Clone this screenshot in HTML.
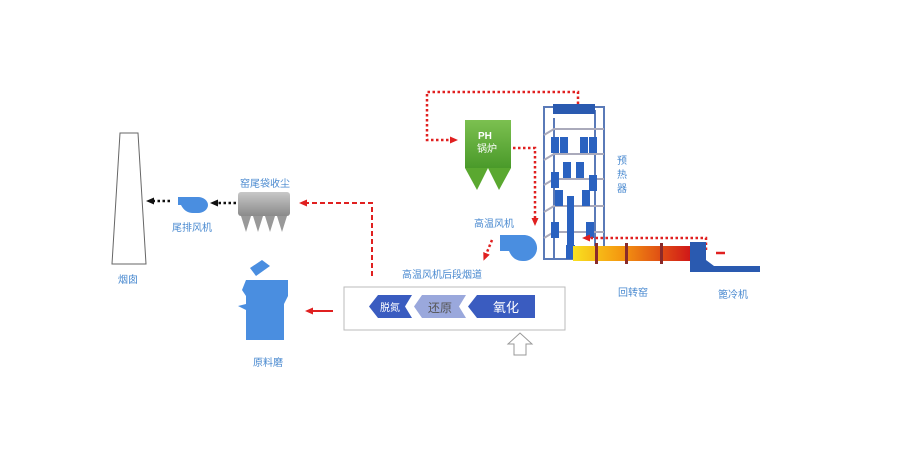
<!DOCTYPE html>
<html><head><meta charset="utf-8"><style>
html,body{margin:0;padding:0;background:#fff;}
svg text{font-family:"Liberation Sans","Noto Sans CJK SC",sans-serif;}
</style></head><body>
<svg width="900" height="452" viewBox="0 0 900 452" xmlns="http://www.w3.org/2000/svg">
<defs>
<linearGradient id="kiln" x1="0" x2="1"><stop offset="0" stop-color="#f8e020"/><stop offset="0.4" stop-color="#f59a10"/><stop offset="1" stop-color="#d01818"/></linearGradient>
<linearGradient id="grn" x1="0" x2="0" y1="0" y2="1"><stop offset="0" stop-color="#7cc050"/><stop offset="1" stop-color="#4a9a2a"/></linearGradient>
<linearGradient id="gry" x1="0" x2="0" y1="0" y2="1"><stop offset="0" stop-color="#c8c8c8"/><stop offset="1" stop-color="#8a8a8a"/></linearGradient>
<marker id="ar" markerUnits="userSpaceOnUse" markerWidth="8" markerHeight="8" refX="4" refY="4" orient="auto"><path d="M0,0.5L8,4L0,7.5z" fill="#e02020"/></marker>
<marker id="ak" markerUnits="userSpaceOnUse" markerWidth="8" markerHeight="8" refX="4" refY="4" orient="auto"><path d="M0,0.5L8,4L0,7.5z" fill="#111"/></marker>
</defs>
<polygon points="120,133 138,133 146,264 112,264" fill="#fff" stroke="#666" stroke-width="1"/>
<text x="118" y="283" font-size="10" fill="#4a8ad0">烟囱</text>
<path d="M178,197 h20 a10,8 0 1 1 0,16 h-5 q-8,0 -12,-8 h-3z" fill="#4a8ee0"/>
<text x="172" y="231" font-size="10" fill="#4a8ad0">尾排风机</text>
<line x1="170" y1="201" x2="150" y2="201" stroke="#111" stroke-width="2.5" stroke-dasharray="2.5,2.5" marker-end="url(#ak)"/>
<line x1="236" y1="203" x2="214" y2="203" stroke="#111" stroke-width="2.5" stroke-dasharray="2.5,2.5" marker-end="url(#ak)"/>
<rect x="238" y="192" width="52" height="24" rx="3" fill="url(#gry)"/>
<g fill="#999"><polygon points="241,216 251,216 246,232"/><polygon points="253,216 263,216 258,232"/><polygon points="265,216 275,216 270,232"/><polygon points="277,216 287,216 282,232"/></g>
<text x="240" y="187" font-size="10" fill="#4a8ad0">窑尾袋收尘</text>
<polyline points="372,276 372,203 303,203" fill="none" stroke="#e02020" stroke-width="2" stroke-dasharray="5,3" marker-end="url(#ar)"/>
<path d="M250,268 l12,-8 l8,6 l-14,10z M246,280 h42 v16 l-4,8 v36 h-38 v-30 l-8,-4 l8,-2 v-8 l-4,-6z" fill="#4a8ee0"/>
<text x="253" y="366" font-size="10" fill="#4a8ad0">原料磨</text>
<line x1="333" y1="311" x2="309" y2="311" stroke="#e02020" stroke-width="2" marker-end="url(#ar)"/>
<text x="402" y="278" font-size="10" fill="#4a8ad0">高温风机后段烟道</text>
<rect x="344" y="287" width="221" height="43" fill="#fff" stroke="#bbb"/>
<polygon points="378,295 412,295 405,306.5 412,318 378,318 369,306.5" fill="#3a5cc0"/>
<text x="380" y="311" font-size="10" fill="#fff">脱氮</text>
<polygon points="422,295 466,295 459,306.5 466,318 422,318 414,306.5" fill="#9aa8dc"/>
<text x="428" y="312" font-size="12" fill="#555">还原</text>
<polygon points="477,295 535,295 535,318 477,318 468,306.5" fill="#3a5cc0"/>
<text x="493" y="312" font-size="13" fill="#fff">氧化</text>
<polygon points="514,355 526,355 526,344 532,344 520,333 508,344 514,344" fill="#fff" stroke="#999"/>
<polyline points="578,104 578,92 427,92 427,140 454,140" fill="none" stroke="#e02020" stroke-width="2.5" stroke-dasharray="2.5,2.5" marker-end="url(#ar)"/>
<rect x="465" y="120" width="46" height="48" fill="url(#grn)"/>
<polygon points="465,168 488,168 477,190" fill="#5aa830"/><polygon points="488,168 511,168 499,190" fill="#5aa830"/>
<text x="478" y="139" font-size="10" font-weight="bold" fill="#fff">PH</text>
<text x="477" y="152" font-size="10" fill="#fff">锅炉</text>
<polyline points="513,148 535,148 535,222" fill="none" stroke="#e02020" stroke-width="2.5" stroke-dasharray="2.5,2.5" marker-end="url(#ar)"/>
<g stroke="#5a7ab8" stroke-width="2" fill="none">
<rect x="544" y="107" width="60" height="152"/>
<line x1="554" y1="118" x2="554" y2="259"/><line x1="595" y1="110" x2="595" y2="255"/>
<path d="M544,135 l10,-6 h50 M544,160 l10,-6 h50 M544,185 l10,-6 h50 M544,212 l10,-6 h50 M544,238 l10,-6 h50" stroke="#aab"/>
</g>
<rect x="553" y="104" width="42" height="10" fill="#2a5ab0"/>
<g fill="#2a62c0">
<rect x="551" y="137" width="8" height="16"/><rect x="560" y="137" width="8" height="16"/><rect x="580" y="137" width="8" height="16"/><rect x="589" y="137" width="8" height="16"/>
<rect x="563" y="162" width="8" height="16"/><rect x="576" y="162" width="8" height="16"/>
<rect x="551" y="172" width="8" height="16"/><rect x="589" y="175" width="8" height="16"/>
<rect x="555" y="190" width="8" height="16"/><rect x="582" y="190" width="8" height="16"/>
<rect x="567" y="196" width="7" height="50"/><rect x="551" y="222" width="8" height="16"/><rect x="586" y="222" width="8" height="16"/>
<rect x="566" y="245" width="9" height="14"/>
</g>
<text x="617" y="164" font-size="10" fill="#4a8ad0">预</text>
<text x="617" y="178" font-size="10" fill="#4a8ad0">热</text>
<text x="617" y="192" font-size="10" fill="#4a8ad0">器</text>
<path d="M500,235 h25 a13,13 0 1 1 -2,26 q-10,0 -14,-10 h-9z" fill="#4a8ee0"/>
<text x="474" y="227" font-size="10" fill="#4a8ad0">高温风机</text>
<line x1="492" y1="240" x2="485" y2="257" stroke="#e02020" stroke-width="2.5" stroke-dasharray="2.5,2.5" marker-end="url(#ar)"/>
<rect x="573" y="246" width="117" height="15" fill="url(#kiln)"/>
<g fill="#8a2a2a"><rect x="595" y="243" width="3" height="21"/><rect x="625" y="243" width="3" height="21"/><rect x="660" y="243" width="3" height="21"/></g>
<polyline points="706,250 706,238 586,238" fill="none" stroke="#e02020" stroke-width="2.5" stroke-dasharray="2.5,2.5" marker-end="url(#ar)"/>
<line x1="716" y1="253" x2="725" y2="253" stroke="#e02020" stroke-width="2.5"/>
<path d="M690,242 h16 v18 l8,6 h46 v6 h-70z" fill="#2a5ab0"/>
<text x="618" y="296" font-size="10" fill="#4a8ad0">回转窑</text>
<text x="718" y="298" font-size="10" fill="#4a8ad0">篦冷机</text>
</svg>
</body></html>
